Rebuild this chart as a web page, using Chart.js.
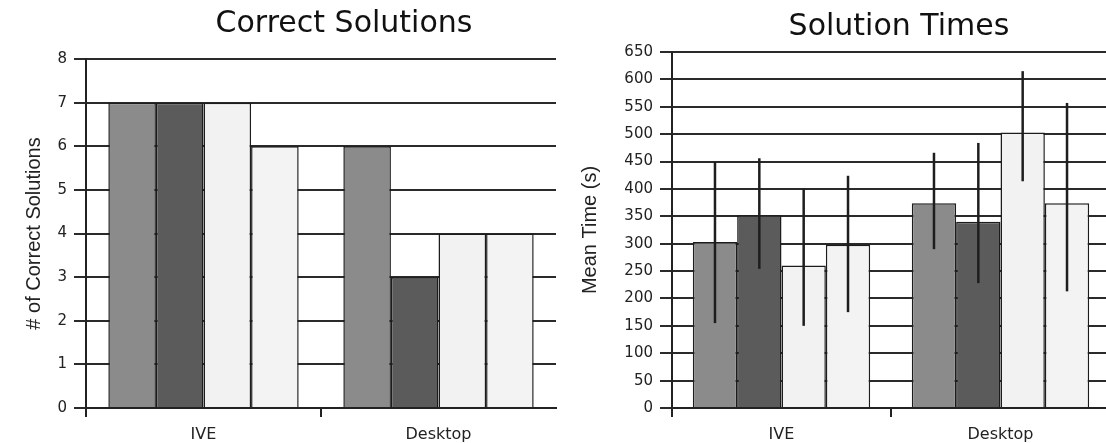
<!DOCTYPE html>
<html>
<head>
<meta charset="utf-8">
<script src="https://cdn.jsdelivr.net/npm/chart.js@4"></script>
<style>
  html, body { margin: 0; padding: 0; background: #fff; }
  body { width: 1106px; height: 443px; overflow: hidden; position: relative; }
  canvas { position: absolute; top: 0; }
  #correct { left: 0; }
  #times { left: 560px; }
</style>
</head>
<body>
<canvas id="correct" width="560" height="443"></canvas>
<canvas id="times" width="560" height="443"></canvas>
<script>
// Categories shared by both panels
const categories = ['IVE', 'Desktop'];

// Number of correct solutions per group
const correct1 = [7, 6];
const correct2 = [7, 3];
const correct3 = [7, 4];
const correct4 = [6, 4];

// Mean solution times (s) per group
const time1 = [303, 374];
const time2 = [352, 340];
const time3 = [260, 503];
const time4 = [298, 374];

// Spread of solution times: lower and upper ends of each whisker (s)
const timeLow1 = [155, 290];
const timeHigh1 = [449, 466];
const timeLow2 = [254, 228];
const timeHigh2 = [456, 484];
const timeLow3 = [150, 414];
const timeHigh3 = [400, 615];
const timeLow4 = [175, 213];
const timeHigh4 = [424, 557];

// Axis tick settings
const correctTicks = { min: 0, max: 8, step: 1 };
const timeTicks = { min: 0, max: 650, step: 50 };

const fills = ['#8b8b8b', '#5b5b5b', '#f2f2f2', '#f3f3f3'];
const ink = '#222222';

// Vertical whiskers drawn through the centre of each bar
const errorBars = {
  id: 'errorBars',
  afterDatasetsDraw(chart, args, opts) {
    if (!opts || !opts.low) return;
    const ctx = chart.ctx;
    const y = chart.scales.y;
    ctx.save();
    ctx.strokeStyle = opts.color;
    ctx.lineWidth = opts.width;
    chart.data.datasets.forEach((ds, i) => {
      chart.getDatasetMeta(i).data.forEach((bar, j) => {
        ctx.beginPath();
        ctx.moveTo(bar.x, y.getPixelForValue(opts.low[i][j]));
        ctx.lineTo(bar.x, y.getPixelForValue(opts.high[i][j]));
        ctx.stroke();
      });
    });
    ctx.restore();
  }
};

// Moves the title sideways after layout
const titleShift = {
  id: 'titleShift',
  afterLayout(chart, args, opts) {
    const t = chart.titleBlock;
    if (t && opts && opts.dx) { t.left += opts.dx; t.right += opts.dx; }
  }
};

function makeDatasets(series) {
  return series.map((values, i) => ({
    label: 'Group ' + (i + 1),
    data: values,
    backgroundColor: fills[i],
    borderColor: '#1c1c1c',
    borderWidth: 1.5,
    categoryPercentage: 0.81,
    barPercentage: 1.0
  }));
}

function makeOptions(cfg) {
  return {
    responsive: false,
    animation: false,
    layout: { padding: { left: 0, right: cfg.padRight, top: 0, bottom: 0 } },
    plugins: {
      legend: { display: false },
      tooltip: { enabled: false },
      title: {
        display: true,
        text: cfg.title,
        color: '#111',
        font: { family: 'DejaVu Sans', size: 30, weight: 'normal', lineHeight: 1.2 },
        padding: cfg.titlePad
      },
      titleShift: { dx: cfg.titleDx },
      errorBars: cfg.errors || {}
    },
    scales: {
      x: {
        type: 'category',
        offset: true,
        afterFit(scale) { scale.height = 35; },
        grid: {
          drawOnChartArea: false,
          drawTicks: true,
          tickLength: 9,
          // marks between categories only; the closing edge mark is left out
          color: (c) => (c.type === 'tick' ? ink : 'rgba(0,0,0,0)'),
          lineWidth: 2,
          offset: true
        },
        border: { display: true, color: ink, width: 2 },
        ticks: {
          color: ink,
          padding: 8,
          font: { family: 'DejaVu Sans', size: 16 }
        }
      },
      y: {
        min: cfg.ticks.min,
        max: cfg.ticks.max,
        afterFit(scale) { scale.width = cfg.axisX; },
        grid: {
          color: '#2a2a2a',
          lineWidth: 2,
          drawTicks: true,
          tickLength: 12
        },
        border: { display: true, color: ink, width: 2 },
        ticks: {
          stepSize: cfg.ticks.step,
          color: ink,
          padding: 7,
          font: { family: 'DejaVu Sans', size: 15 }
        },
        title: {
          display: true,
          text: cfg.yTitle,
          color: ink,
          font: { family: 'Liberation Sans', size: 20, lineHeight: 1.2 },
          padding: { top: cfg.yTitleTop, bottom: 0 }
        }
      }
    }
  };
}

new Chart(document.getElementById('correct'), {
  type: 'bar',
  data: { labels: categories, datasets: makeDatasets([correct1, correct2, correct3, correct4]) },
  options: makeOptions({
    title: 'Correct Solutions',
    titlePad: { top: 6, bottom: 17 },
    titleDx: 66,
    padRight: 4,
    axisX: 86,
    ticks: correctTicks,
    yTitle: '# of Correct Solutions',
    yTitleTop: 22
  }),
  plugins: [titleShift]
});

new Chart(document.getElementById('times'), {
  type: 'bar',
  data: { labels: categories, datasets: makeDatasets([time1, time2, time3, time4]) },
  options: makeOptions({
    title: 'Solution Times',
    titlePad: { top: 9, bottom: 7 },
    titleDx: 64,
    padRight: 10,
    axisX: 112,
    ticks: timeTicks,
    yTitle: 'Mean Time (s)',
    yTitleTop: 18,
    errors: {
      low: [timeLow1, timeLow2, timeLow3, timeLow4],
      high: [timeHigh1, timeHigh2, timeHigh3, timeHigh4],
      color: '#1e1e1e',
      width: 2.5
    }
  }),
  plugins: [titleShift, errorBars]
});
</script>
</body>
</html>
